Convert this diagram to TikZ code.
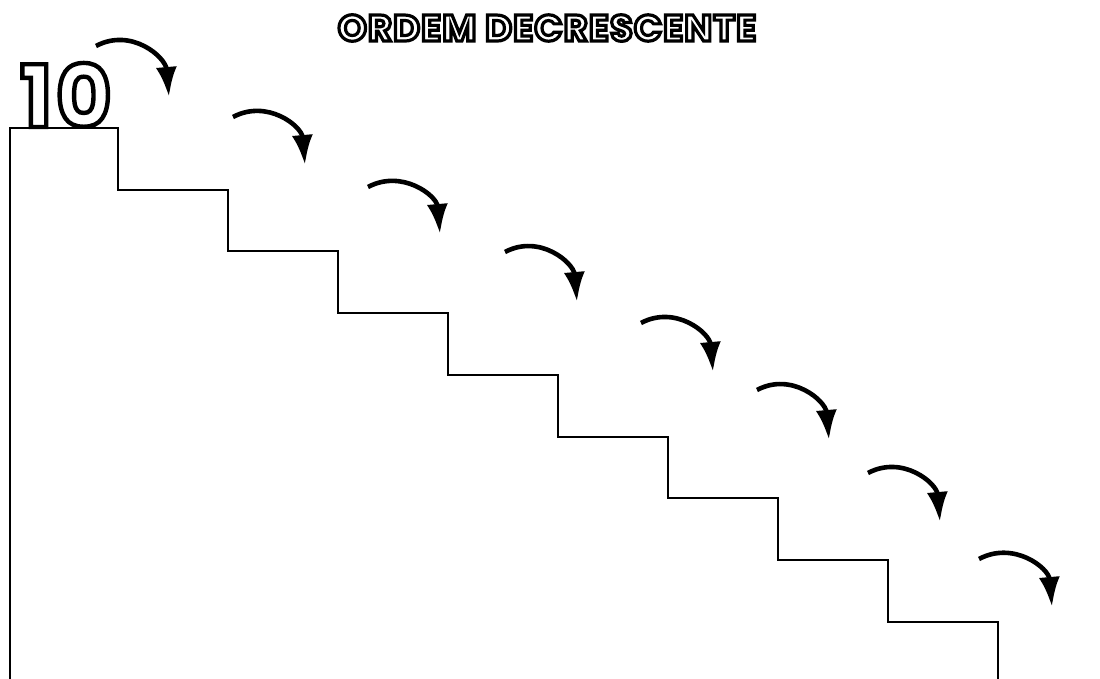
\documentclass[tikz,border=0pt]{standalone}
\usepackage{fontspec}
\usepackage{tikz}
\usetikzlibrary{arrows.meta}
\newfontfamily\bubblefont{Poppins}[LetterSpace=3]
\newfontfamily\bubbledigits{Poppins}[LetterSpace=4]
\newcommand{\hollow}[2]{\special{pdf:code q 1 g 0 G 2 Tr #1 w}#2\special{pdf:code Q}}

\begin{document}
\begin{tikzpicture}[
  x=0.5pt, y=0.5pt,
  every node/.style={inner sep=0pt},
  title/.style={font=\bubblefont\bfseries\fontsize{18.5}{18.5}\selectfont},
  numlabel/.style={font=\bubbledigits\bfseries\fontsize{43}{43}\selectfont},
  stair/.style={line width=1.3pt, line join=miter},
  jump/.style={line width=2.3pt, -{Latex[length=15pt,width=10.5pt]}},
  >=Stealth
]
\useasboundingbox (0,0) rectangle (1100,-679);

\node[title] (ttl) at (547,-28) {\hollow{1.6}{ORDEM DECRESCENTE}};

% escada
\draw[stair] (10,-679) -- (10,-128) -- (118,-128) -- (118,-190) -- (228,-190)
  -- (228,-251) -- (338,-251) -- (338,-313) -- (448,-313) -- (448,-375)
  -- (558,-375) -- (558,-437) -- (668,-437) -- (668,-498) -- (778,-498)
  -- (778,-560) -- (888,-560) -- (888,-622) -- (998,-622) -- (998,-679);

\node[numlabel, anchor=base] (top) at (66,-127) {\hollow{2.2}{10}};

% setas
\coordinate (ar1-s) at (96,-46);   \coordinate (ar1-e) at (169,-97);
\coordinate (ar2-s) at (233,-117); \coordinate (ar2-e) at (305,-165);
\coordinate (ar3-s) at (368,-187); \coordinate (ar3-e) at (440,-234);
\coordinate (ar4-s) at (505,-252); \coordinate (ar4-e) at (577,-302);
\coordinate (ar5-s) at (641,-323); \coordinate (ar5-e) at (713,-372);
\coordinate (ar6-s) at (757,-390); \coordinate (ar6-e) at (829,-440);
\coordinate (ar7-s) at (868,-473); \coordinate (ar7-e) at (940,-522);
\coordinate (ar8-s) at (979,-559); \coordinate (ar8-e) at (1052,-607);

\draw[jump] (ar1-s) to[out=28, in=95, looseness=1.15] (ar1-e);
\draw[jump] (ar2-s) to[out=28, in=95, looseness=1.15] (ar2-e);
\draw[jump] (ar3-s) to[out=28, in=95, looseness=1.15] (ar3-e);
\draw[jump] (ar4-s) to[out=28, in=95, looseness=1.15] (ar4-e);
\draw[jump] (ar5-s) to[out=28, in=95, looseness=1.15] (ar5-e);
\draw[jump] (ar6-s) to[out=28, in=95, looseness=1.15] (ar6-e);
\draw[jump] (ar7-s) to[out=28, in=95, looseness=1.15] (ar7-e);
\draw[jump] (ar8-s) to[out=28, in=95, looseness=1.15] (ar8-e);
\end{tikzpicture}
\end{document}
